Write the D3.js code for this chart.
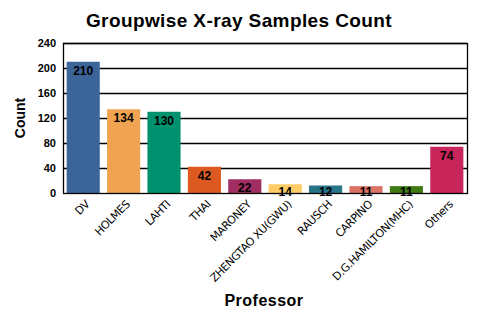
<!DOCTYPE html>
<html>
<head>
<meta charset="utf-8">
<script src="https://cdn.jsdelivr.net/npm/d3@7"></script>
<style>
  body { margin: 0; background: #fff; }
  svg { display: block; }
</style>
</head>
<body>
<svg id="chart" width="480" height="320"></svg>
<script>
const professors = ['DV', 'HOLMES', 'LAHTI', 'THAI', 'MARONEY', 'ZHENGTAO XU(GWU)',
  'RAUSCH', 'CARPINO', 'D.G.HAMILTON(MHC)', 'Others'];
const counts = [210, 134, 130, 42, 22, 14, 12, 11, 11, 74];
const barColors = ['#3b6598', '#f0a452', '#00926e', '#dc5a22', '#a12e63', '#ffcc66',
  '#287489', '#dc7266', '#3f7a13', '#c8265a'];
const yTicks = [0, 40, 80, 120, 160, 200, 240];

const svg = d3.select('#chart');
const margin = { top: 43, right: 13, bottom: 127, left: 63 };
const width = 480 - margin.left - margin.right;
const height = 320 - margin.top - margin.bottom;

const x = d3.scaleBand()
  .domain(professors)
  .range([0, width])
  .paddingInner(0.18)
  .paddingOuter(0.09);

const y = d3.scaleLinear()
  .domain([0, 240])
  .range([height, 0]);

const color = d3.scaleOrdinal().domain(professors).range(barColors);

const g = svg.append('g')
  .attr('transform', `translate(${margin.left},${margin.top})`);

// title
svg.append('text')
  .attr('x', 239)
  .attr('y', 27)
  .attr('text-anchor', 'middle')
  .attr('font-family', 'Liberation Sans, Arial')
  .attr('font-weight', 'bold')
  .attr('font-size', '19px')
  .attr('letter-spacing', '0.4px')
  .text('Groupwise X-ray Samples Count');

// gridlines
g.selectAll('.grid')
  .data(yTicks.slice(1))
  .join('line')
  .attr('class', 'grid')
  .attr('x1', 0)
  .attr('x2', width)
  .attr('y1', d => Math.round(y(d)) + 0.5)
  .attr('y2', d => Math.round(y(d)) + 0.5)
  .attr('stroke', '#000')
  .attr('stroke-width', 1.3);

// bars
const data = professors.map((p, i) => ({ name: p, value: counts[i] }));

g.selectAll('rect.bar')
  .data(data)
  .join('rect')
  .attr('class', 'bar')
  .attr('x', d => x(d.name))
  .attr('y', d => y(d.value))
  .attr('width', x.bandwidth())
  .attr('height', d => height - y(d.value))
  .attr('fill', d => color(d.name));

// frame
g.append('rect')
  .attr('x', 0.5)
  .attr('y', 0.5)
  .attr('width', width)
  .attr('height', height)
  .attr('fill', 'none')
  .attr('stroke', '#000')
  .attr('stroke-width', 1.3);

// y axis
const yAxis = g.append('g')
  .call(d3.axisLeft(y).tickValues(yTicks).tickSize(0).tickPadding(7));
yAxis.select('.domain').remove();
yAxis.selectAll('text')
  .attr('font-family', 'Liberation Sans, Arial')
  .attr('font-weight', 'bold')
  .attr('font-size', '11px')
  .attr('fill', '#000');

// x axis
const xAxis = g.append('g')
  .attr('transform', `translate(0,${height})`)
  .call(d3.axisBottom(x).tickSize(0).tickPadding(0));
xAxis.select('.domain').remove();
xAxis.selectAll('text')
  .attr('font-family', 'DejaVu Sans, Verdana')
  .attr('font-size', '11px')
  .attr('letter-spacing', '-0.4px')
  .attr('fill', '#000')
  .attr('text-anchor', 'end')
  .attr('dy', '0')
  .attr('transform', 'translate(7,12) rotate(-45)');

// value labels
g.selectAll('text.val')
  .data(data)
  .join('text')
  .attr('class', 'val')
  .attr('x', d => x(d.name) + x.bandwidth() / 2)
  .attr('y', d => Math.min(y(d.value) + 13, height + 3))
  .attr('text-anchor', 'middle')
  .attr('font-family', 'Liberation Sans, Arial')
  .attr('font-weight', 'bold')
  .attr('font-size', '12px')
  .attr('fill', '#000')
  .text(d => d.value);

// axis titles
svg.append('text')
  .attr('transform', `translate(25,${margin.top + height / 2}) rotate(-90)`)
  .attr('text-anchor', 'middle')
  .attr('font-family', 'Liberation Sans, Arial')
  .attr('font-weight', 'bold')
  .attr('font-size', '14px')
  .text('Count');

svg.append('text')
  .attr('x', 264)
  .attr('y', 306)
  .attr('text-anchor', 'middle')
  .attr('font-family', 'Liberation Sans, Arial')
  .attr('font-weight', 'bold')
  .attr('font-size', '16px')
  .attr('letter-spacing', '0.5px')
  .text('Professor');
</script>
</body>
</html>
